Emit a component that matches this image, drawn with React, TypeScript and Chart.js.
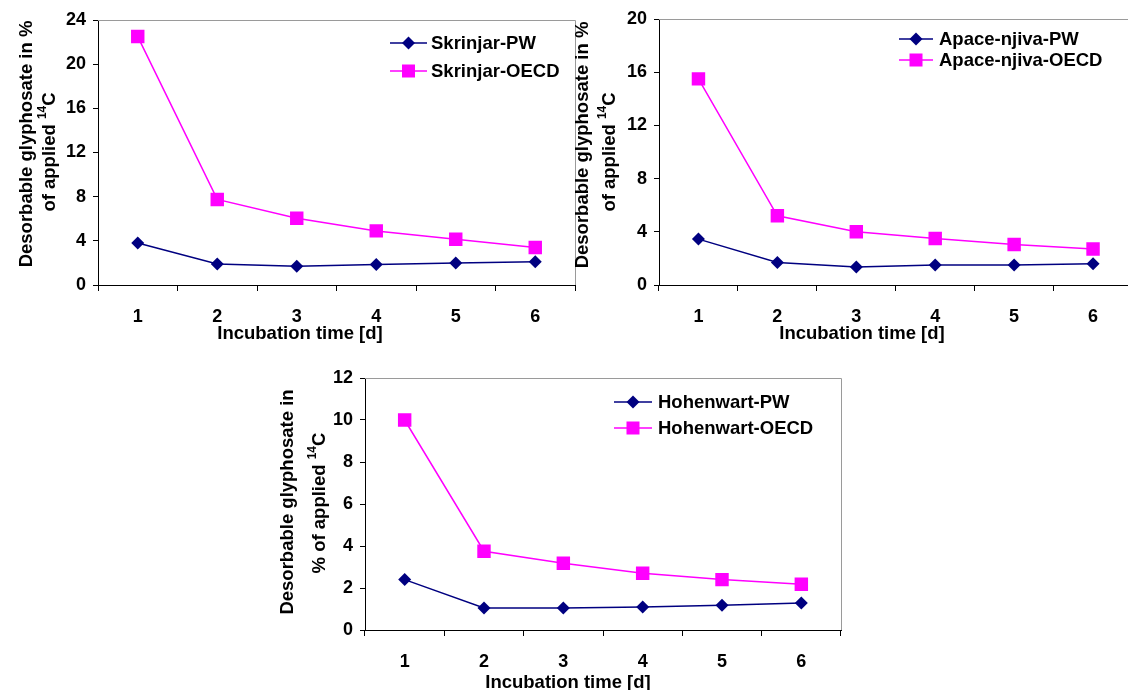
import React, { useEffect, useRef } from 'react';
import { Chart, registerables } from 'chart.js';

Chart.register(...registerables);

const FONT = '"Liberation Sans", Arial, Helvetica, sans-serif';
const NAVY = '#000080';
const MAGENTA = '#FF00FF';
const TEXT_SIZE = 18.5;
const TICK_SIZE = 18;

// Incubation days (category axis)
const days = ['1', '2', '3', '4', '5', '6'];

// Desorbable glyphosate, % of applied 14C
const skrinjarPW = [3.8, 1.9, 1.7, 1.85, 2.0, 2.1];
const skrinjarOECD = [22.5, 7.75, 6.05, 4.9, 4.15, 3.4];
const apacePW = [3.45, 1.7, 1.35, 1.5, 1.5, 1.6];
const apaceOECD = [15.5, 5.2, 4.0, 3.5, 3.05, 2.7];
const hohenwartPW = [2.4, 1.05, 1.05, 1.1, 1.18, 1.28];
const hohenwartOECD = [10.0, 3.75, 3.18, 2.7, 2.4, 2.18];

const xTitle = 'Incubation time [d]';

type Panel = {
  pwLabel: string;
  oecdLabel: string;
  pw: number[];
  oecd: number[];
  yMax: number;
  yStep: number;
  yTitle1: string;
  yTitle2: string;
  // layout
  left: number;
  top: number;
  width: number;
  height: number;
  yAxisWidth: number;
  padTop: number;
  padRight: number;
  xTickPad: number;
  legendX1: number;
  legendX2: number;
  legendTextX: number;
  legendRows: [number, number];
  yTitleX: [number, number];
  yTitleY: [number, number];
  xTitleX: number;
  xTitleY: number;
};

const panels: Panel[] = [
  {
    pwLabel: 'Skrinjar-PW', oecdLabel: 'Skrinjar-OECD', pw: skrinjarPW, oecd: skrinjarOECD,
    yMax: 24, yStep: 4,
    yTitle1: 'Desorbable glyphosate in %', yTitle2: 'of applied ',
    left: 0, top: 0, width: 585, height: 345, yAxisWidth: 98, padTop: 20, padRight: 10, xTickPad: 15,
    legendX1: 390, legendX2: 427, legendTextX: 431, legendRows: [43, 71],
    yTitleX: [27, 50], yTitleY: [144, 152], xTitleX: 300, xTitleY: 334,
  },
  {
    pwLabel: 'Apace-njiva-PW', oecdLabel: 'Apace-njiva-OECD', pw: apacePW, oecd: apaceOECD,
    yMax: 20, yStep: 4,
    yTitle1: 'Desorbable glyphosate in %', yTitle2: 'of applied ',
    left: 560, top: 0, width: 582, height: 345, yAxisWidth: 99, padTop: 19, padRight: 9, xTickPad: 15,
    legendX1: 339, legendX2: 373, legendTextX: 379, legendRows: [39, 60],
    yTitleX: [23, 50], yTitleY: [145, 152], xTitleX: 302, xTitleY: 334,
  },
  {
    pwLabel: 'Hohenwart-PW', oecdLabel: 'Hohenwart-OECD', pw: hohenwartPW, oecd: hohenwartOECD,
    yMax: 12, yStep: 2,
    yTitle1: 'Desorbable glyphosate in', yTitle2: '% of applied ',
    left: 270, top: 360, width: 583, height: 330, yAxisWidth: 95, padTop: 18, padRight: 12, xTickPad: 15,
    legendX1: 344, legendX2: 382, legendTextX: 388, legendRows: [42, 68],
    yTitleX: [18, 50], yTitleY: [142, 143], xTitleX: 298, xTitleY: 323,
  },
];

function drawDiamond(ctx: CanvasRenderingContext2D, x: number, y: number, r: number) {
  ctx.beginPath();
  ctx.moveTo(x - r, y);
  ctx.lineTo(x, y - r);
  ctx.lineTo(x + r, y);
  ctx.lineTo(x, y + r);
  ctx.closePath();
  ctx.fillStyle = NAVY;
  ctx.fill();
}

function drawSquare(ctx: CanvasRenderingContext2D, x: number, y: number, s: number) {
  ctx.fillStyle = MAGENTA;
  ctx.fillRect(x - s / 2, y - s / 2, s, s);
}

function makeDecor(p: Panel) {
  return {
    id: 'decor',
    afterDraw(chart: any) {
      const ctx: CanvasRenderingContext2D = chart.ctx;
      const a = chart.chartArea;
      ctx.save();
      // plot frame: top and right edges
      ctx.strokeStyle = '#9a9a9a';
      ctx.lineWidth = 1;
      ctx.beginPath();
      ctx.moveTo(a.left, a.top + 0.5);
      ctx.lineTo(a.right + 0.5, a.top + 0.5);
      ctx.lineTo(a.right + 0.5, a.bottom);
      ctx.stroke();

      // legend
      const rows = [
        { label: p.pwLabel, color: NAVY, marker: 'diamond' },
        { label: p.oecdLabel, color: MAGENTA, marker: 'square' },
      ];
      rows.forEach((r, i) => {
        const y = p.legendRows[i];
        ctx.strokeStyle = r.color;
        ctx.lineWidth = 1.5;
        ctx.beginPath();
        ctx.moveTo(p.legendX1, y);
        ctx.lineTo(p.legendX2, y);
        ctx.stroke();
        const mx = (p.legendX1 + p.legendX2) / 2;
        if (r.marker === 'diamond') drawDiamond(ctx, mx, y, 6.5);
        else drawSquare(ctx, mx, y, 13);
        ctx.fillStyle = '#000';
        ctx.font = `bold ${TEXT_SIZE}px ${FONT}`;
        ctx.textAlign = 'left';
        ctx.textBaseline = 'middle';
        ctx.fillText(r.label, p.legendTextX, y + 1);
      });

      // x axis title
      ctx.fillStyle = '#000';
      ctx.font = `bold ${TEXT_SIZE}px ${FONT}`;
      ctx.textAlign = 'center';
      ctx.textBaseline = 'middle';
      ctx.fillText(xTitle, p.xTitleX, p.xTitleY);

      // y axis title, two rotated lines with a superscript mass number
      ctx.save();
      ctx.translate(p.yTitleX[0], p.yTitleY[0]);
      ctx.rotate(-Math.PI / 2);
      ctx.font = `bold ${TEXT_SIZE}px ${FONT}`;
      ctx.textAlign = 'center';
      ctx.fillText(p.yTitle1, 0, 0);
      ctx.restore();

      ctx.save();
      ctx.translate(p.yTitleX[1], p.yTitleY[1]);
      ctx.rotate(-Math.PI / 2);
      ctx.textAlign = 'left';
      ctx.font = `bold ${TEXT_SIZE}px ${FONT}`;
      const w1 = ctx.measureText(p.yTitle2).width;
      const w3 = ctx.measureText('C').width;
      ctx.font = `bold 12px ${FONT}`;
      const w2 = ctx.measureText('14').width;
      let x = -(w1 + w2 + w3) / 2;
      ctx.font = `bold ${TEXT_SIZE}px ${FONT}`;
      ctx.fillText(p.yTitle2, x, 0);
      x += w1;
      ctx.font = `bold 12px ${FONT}`;
      ctx.fillText('14', x, -7);
      x += w2;
      ctx.font = `bold ${TEXT_SIZE}px ${FONT}`;
      ctx.fillText('C', x, 0);
      ctx.restore();

      ctx.restore();
    },
  };
}

function PanelChart({ p }: { p: Panel }) {
  const ref = useRef<HTMLCanvasElement>(null);
  useEffect(() => {
    const canvas = ref.current;
    if (!canvas) return;
    const chart = new Chart(canvas, {
      type: 'line',
      data: {
        labels: days,
        datasets: [
          {
            label: p.pwLabel,
            data: p.pw,
            borderColor: NAVY,
            backgroundColor: NAVY,
            borderWidth: 1.5,
            pointStyle: 'rectRot',
            pointRadius: 6.5,
            pointBorderWidth: 0,
            tension: 0,
          },
          {
            label: p.oecdLabel,
            data: p.oecd,
            borderColor: MAGENTA,
            backgroundColor: MAGENTA,
            borderWidth: 1.5,
            pointStyle: 'rect',
            pointRadius: 9.5,
            pointBorderWidth: 0,
            tension: 0,
          },
        ],
      },
      options: {
        responsive: false,
        animation: false,
        devicePixelRatio: 1,
        layout: { padding: { left: 0, top: p.padTop, right: p.padRight, bottom: 0 } },
        plugins: {
          legend: { display: false },
          tooltip: { enabled: false },
          title: { display: false },
        },
        scales: {
          x: {
            type: 'category',
            offset: true,
            grid: { offset: true, drawOnChartArea: false, drawTicks: true, tickLength: 6, color: '#000', lineWidth: 1 },
            border: { display: true, color: '#000', width: 1 },
            ticks: { color: '#000', font: { family: FONT, size: TICK_SIZE, weight: 'bold' }, padding: p.xTickPad, maxRotation: 0 },
            afterFit: (s: any) => { s.height = 60; },
          },
          y: {
            min: 0,
            max: p.yMax,
            grid: { drawOnChartArea: false, drawTicks: true, tickLength: 5, color: '#000', lineWidth: 1 },
            border: { display: true, color: '#000', width: 1 },
            ticks: { stepSize: p.yStep, color: '#000', font: { family: FONT, size: TICK_SIZE, weight: 'bold' }, padding: 7 },
            afterFit: (s: any) => { s.width = p.yAxisWidth; },
          },
        },
      } as any,
      plugins: [makeDecor(p)],
    });
    return () => chart.destroy();
  }, [p]);
  return (
    <canvas
      ref={ref}
      width={p.width}
      height={p.height}
      style={{ position: 'absolute', left: p.left, top: p.top, width: p.width, height: p.height }}
    />
  );
}

export default function App() {
  return (
    <div
      style={{
        position: 'absolute',
        left: 0,
        top: 0,
        width: 1128,
        height: 692,
        overflow: 'hidden',
        background: '#fff',
      }}
    >
      {panels.map((p) => (
        <PanelChart key={p.pwLabel} p={p} />
      ))}
    </div>
  );
}
